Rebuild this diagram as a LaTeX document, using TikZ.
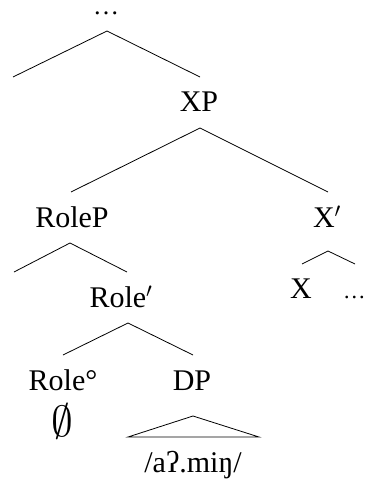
\documentclass[tikz,border=0pt]{standalone}
\usepackage{fontspec}
\setmainfont{Liberation Serif}
\begin{document}
\begin{tikzpicture}[x=1pt,y=-1pt,
  lbl/.style={inner sep=0pt, anchor=base, font=\fontsize{30}{36}\selectfont},
  dotslbl/.style={inner sep=0pt, text height=4pt, text depth=0pt},
  br/.style={line width=0.8pt, line join=miter}]
\useasboundingbox (0,0) rectangle (364,484);
% labels
\node[lbl, dotslbl, font=\fontsize{26}{30}\selectfont] (top) at (106,15) {…};
\node[lbl] (XP) at (199,112) {XP};
\node[lbl] (RoleP) at (72,227) {RoleP};
\node[lbl] (Xbar) at (327,227) {X$'$};
\node[lbl] (Rolebar) at (121,307) {Role$'$};
\node[lbl] (X) at (301,298) {X};
\node[lbl, dotslbl, anchor=base west, font=\fontsize{22.5}{27}\selectfont] (dots) at (343,298) {…};
\node[lbl] (Rolehead) at (63,390) {Role°};
\node[lbl] (DP) at (192,390) {DP};
\node[lbl] (empty) at (62,436) {\scalebox{1.75}{$\emptyset$}};
\node[lbl] (amin) at (193,472) {/aʔ.miŋ/};
% branch points
\coordinate (topA) at (107,31);
\coordinate (topL) at (13,77);
\coordinate (topR) at (200,77);
\coordinate (xpA) at (200,128);
\coordinate (xpL) at (71,192);
\coordinate (xpR) at (328,192);
\coordinate (rpA) at (70,243);
\coordinate (rpL) at (14,272);
\coordinate (rpR) at (127,272);
\coordinate (xbA) at (328,251);
\coordinate (xbL) at (302,264);
\coordinate (xbR) at (355,264);
\coordinate (rbA) at (128,323);
\coordinate (rbL) at (63,355);
\coordinate (rbR) at (193,355);
\coordinate (trA) at (193,416);
\coordinate (trL) at (128,437);
\coordinate (trR) at (259,437);
% branches
\draw[br] (topL) -- (topA) -- (topR);
\draw[br] (xpL) -- (xpA) -- (xpR);
\draw[br] (rpL) -- (rpA) -- (rpR);
\draw[br] (xbL) -- (xbA) -- (xbR);
\draw[br] (rbL) -- (rbA) -- (rbR);
\draw[br] (trL) -- (trA) -- (trR) -- cycle;
\end{tikzpicture}
\end{document}
